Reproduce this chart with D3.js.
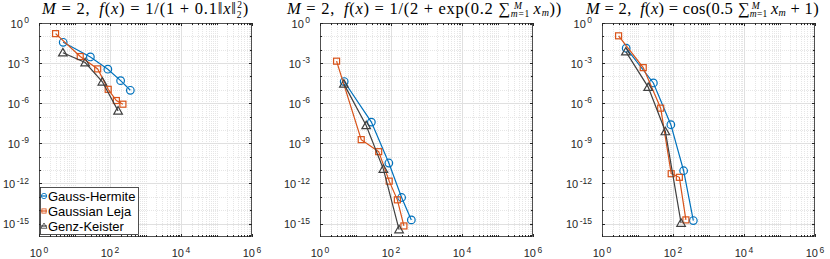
<!DOCTYPE html>
<html>
<head>
<meta charset="utf-8">
<script src="https://cdn.jsdelivr.net/npm/d3@7"></script>
<style>
  body { margin: 0; background: #fff; }
  text { font-family: "Liberation Sans", Arial, sans-serif; }
</style>
</head>
<body>
<div id="chart"></div>
<script>
// number of grid points for each rule (same grids in all three panels)
const nodesGH = [4.8, 28, 87, 199, 374];
const nodesGL = [2.93, 14.5, 45, 89, 151, 231];
const nodesGK = [4.7, 20, 61, 169];

// errors, panel 1: 1/(1+0.1|x|^2)
const err1GH = [0.036, 2.9e-3, 3.5e-4, 4.9e-5, 9.3e-6];
const err1GL = [0.16, 3.1e-3, 3.7e-4, 1.1e-5, 1.6e-6, 8.5e-7];
const err1GK = [6e-3, 1.1e-3, 4e-5, 2.7e-7];
// panel 2: 1/(2+exp(0.2 sum x))
const err2GH = [4.2e-5, 3.9e-8, 3.4e-11, 9e-14, 1.9e-15];
const err2GL = [1.4e-3, 1.9e-9, 2.4e-10, 1.5e-12, 6e-14, 6.7e-16];
const err2GK = [2.8e-5, 2.2e-8, 1.2e-11, 3.6e-16];
// panel 3: cos(0.5 sum x + 1)
const err3GH = [0.013, 3.3e-5, 2.5e-8, 9e-12, 1.7e-15];
const err3GL = [0.11, 4.6e-4, 4.3e-7, 5.4e-12, 2.9e-12, 1.9e-15];
const err3GK = [7.2e-3, 1.6e-5, 7.7e-9, 1.1e-15];

const seriesNames = ["Gauss-Hermite", "Gaussian Leja", "Genz-Keister"];
const xTicks = [1, 1e2, 1e4, 1e6];
const yTicks = [1, 1e-3, 1e-6, 1e-9, 1e-12, 1e-15];

const colors = ["#0072BD", "#D95319", "#404040"];
const markers = ["circle", "square", "triangle"];

const width = 830, height = 259;
const lefts = [39, 320, 602];
const pw = 213, plotTop = 23, plotBottom = 237;

const svg = d3.select("#chart").append("svg")
  .attr("width", width).attr("height", height)

const panels = [
  { left: lefts[0], data: [err1GH, err1GL, err1GK] },
  { left: lefts[1], data: [err2GH, err2GL, err2GK] },
  { left: lefts[2], data: [err3GH, err3GL, err3GK] }
]
const nodes = [nodesGH, nodesGL, nodesGK];

function drawMarker(g, type, x, y, color) {
  if (type === "circle") {
    g.append("circle").attr("cx", x).attr("cy", y).attr("r", 3.8)
      .attr("fill", "none").attr("stroke", color).attr("stroke-width", 1.2)
  } else if (type === "square") {
    g.append("rect").attr("x", x - 3).attr("y", y - 3).attr("width", 6).attr("height", 6)
      .attr("fill", "none").attr("stroke", color).attr("stroke-width", 1.2)
  } else {
    const s = 4.3;
    g.append("path")
      .attr("d", `M${x},${y - s} L${x + s},${y + s * 0.75} L${x - s},${y + s * 0.75} Z`)
      .attr("fill", "none").attr("stroke", color).attr("stroke-width", 1.2)
  }
}

function powLabel(sel, v) {
  const e = Math.round(Math.log10(v));
  sel.append("tspan").text("10")
  sel.append("tspan").attr("font-size", 8.5).attr("dx", 1.5).attr("dy", -4.5).text(e)
}

// title builder: segments of [text, opts], stretched to span x0..x1
function title(x0, x1, segs) {
  const t = svg.append("text").attr("x", x0).attr("y", 14)
    .attr("text-anchor", "start")
    .style("font-family", "'Liberation Serif', 'DejaVu Serif', serif")
    .attr("font-size", 16.5).attr("fill", "#000")
  segs.forEach(s => {
    const ts = t.append("tspan").text(s[0])
    const o = s[1] || {};
    if (o.i) ts.attr("font-style", "italic")
    if (o.fs) ts.attr("font-size", o.fs)
    if (o.dy) ts.attr("dy", o.dy)
    if (o.dx) ts.attr("dx", o.dx)
  })
  const w = t.node().getBBox().width;
  const n = t.node().getNumberOfChars();
  const ls = Math.max(0, (x1 - x0 - w) / n);
  t.attr("letter-spacing", ls)
}

panels.forEach((p, pi) => {
  const x = d3.scaleLog().domain([1, 1e6]).range([p.left, p.left + pw]);
  const y = d3.scaleLog().domain([1e-16, 1]).range([plotBottom, plotTop]);
  const g = svg.append("g");

  // grid
  const xMinor = [], yMinor = [];
  for (let k = 0; k < 6; k++) for (let m = 1; m <= 9; m++) {
    const v = m * Math.pow(10, k);
    if (v > 1 && !xTicks.includes(v)) xMinor.push(v);
  }
  for (let k = -15; k < 0; k++) {
    if (k % 3 !== 0) yMinor.push(Math.pow(10, k));
  }
  g.selectAll(".xminor").data(xMinor).enter().append("line")
    .attr("x1", d => Math.round(x(d)) + 0.5).attr("x2", d => Math.round(x(d)) + 0.5)
    .attr("y1", plotTop).attr("y2", plotBottom)
    .attr("stroke", "#e6e6e6").attr("stroke-width", 1).attr("stroke-dasharray", "1,1")
  g.selectAll(".yminor").data(yMinor).enter().append("line")
    .attr("y1", d => Math.round(y(d)) + 0.5).attr("y2", d => Math.round(y(d)) + 0.5)
    .attr("x1", p.left).attr("x2", p.left + pw)
    .attr("stroke", "#e6e6e6").attr("stroke-width", 1).attr("stroke-dasharray", "1,1")
  g.selectAll(".xmajor").data(xTicks.slice(1, 3)).enter().append("line")
    .attr("x1", d => Math.round(x(d)) + 0.5).attr("x2", d => Math.round(x(d)) + 0.5)
    .attr("y1", plotTop).attr("y2", plotBottom)
    .attr("stroke", "#e0e0e0").attr("stroke-width", 1)
  g.selectAll(".ymajor").data(yTicks.slice(1)).enter().append("line")
    .attr("y1", d => Math.round(y(d)) + 0.5).attr("y2", d => Math.round(y(d)) + 0.5)
    .attr("x1", p.left).attr("x2", p.left + pw)
    .attr("stroke", "#e0e0e0").attr("stroke-width", 1)

  // ticks (inward, mirrored)
  const tickCol = "#262626";
  xMinor.concat(xTicks).forEach(v => {
    const len = xTicks.includes(v) ? 3 : 2;
    const xx = Math.round(x(v)) + 0.5;
    g.append("line").attr("x1", xx).attr("x2", xx).attr("y1", plotBottom).attr("y2", plotBottom - len).attr("stroke", tickCol)
    g.append("line").attr("x1", xx).attr("x2", xx).attr("y1", plotTop).attr("y2", plotTop + len).attr("stroke", tickCol)
  })
  yMinor.concat(yTicks).forEach(v => {
    const len = yTicks.includes(v) ? 3 : 2;
    const yy = Math.round(y(v)) + 0.5;
    g.append("line").attr("y1", yy).attr("y2", yy).attr("x1", p.left).attr("x2", p.left + len).attr("stroke", tickCol)
    g.append("line").attr("y1", yy).attr("y2", yy).attr("x1", p.left + pw).attr("x2", p.left + pw - len).attr("stroke", tickCol)
  })

  // box
  g.append("rect").attr("x", p.left + 0.5).attr("y", plotTop + 0.5)
    .attr("width", pw - 1).attr("height", plotBottom - plotTop - 1)
    .attr("fill", "none").attr("stroke", tickCol).attr("stroke-width", 0.8)

  // tick labels
  xTicks.forEach(v => {
    const t = g.append("text").attr("x", x(v)).attr("y", 257)
      .attr("text-anchor", "middle").attr("font-size", 11).attr("fill", "#262626")
    powLabel(t, v)
  })
  yTicks.forEach(v => {
    const t = g.append("text").attr("x", p.left - 10).attr("y", y(v) + 4.5)
      .attr("text-anchor", "end").attr("font-size", 11).attr("fill", "#262626")
    powLabel(t, v)
  })

  // series
  p.data.forEach((errs, si) => {
    const pts = errs.map((e, i) => [x(nodes[si][i]), y(e)]);
    g.append("path").attr("d", d3.line()(pts))
      .attr("fill", "none").attr("stroke", colors[si]).attr("stroke-width", 1.2)
    pts.forEach(pt => drawMarker(g, markers[si], pt[0], pt[1], colors[si]))
  })
})

// titles
const sp = "\u2005", cs = "\u2002";
title(42, 250, [["M", { i: 1 }], [sp + "=" + sp + "2," + cs], ["f", { i: 1 }], ["("], ["x", { i: 1 }], [")" + sp + "=" + sp + "1/(1" + sp + "+" + sp + "0.1‖"],
  ["x", { i: 1 }], ["‖"], ["2", { fs: 9.5, dy: 4 }], ["2", { fs: 9.5, dx: -5, dy: -10 }], [")", { dy: 6 }]]);
title(287, 563, [["M", { i: 1 }], [sp + "=" + sp + "2," + cs], ["f", { i: 1 }], ["("], ["x", { i: 1 }], [")" + sp + "=" + sp + "1/(2" + sp + "+" + sp + "exp(0.2" + sp],
  ["∑"], ["m", { i: 1, fs: 9.5, dy: 3 }], ["=1", { fs: 9.5 }], ["M", { i: 1, fs: 9.5, dx: -16, dy: -8.5 }],
  ["x", { i: 1, dx: 11, dy: 5.5 }], ["m", { i: 1, fs: 10, dy: 2 }], ["))", { dy: -2 }]]);
title(586, 820, [["M", { i: 1 }], [sp + "=" + sp + "2," + cs], ["f", { i: 1 }], ["("], ["x", { i: 1 }], [")" + sp + "=" + sp + "cos(0.5" + sp],
  ["∑"], ["m", { i: 1, fs: 9.5, dy: 3 }], ["=1", { fs: 9.5 }], ["M", { i: 1, fs: 9.5, dx: -16, dy: -8.5 }],
  ["x", { i: 1, dx: 11, dy: 5.5 }], ["m", { i: 1, fs: 10, dy: 2 }], [sp + "+" + sp + "1)", { dy: -2 }]]);

// legend (first panel)
const lg = svg.append("g");
lg.append("rect").attr("x", 40.5).attr("y", 187.5).attr("width", 98).attr("height", 47)
  .attr("fill", "#fff").attr("stroke", "#262626").attr("stroke-width", 0.8)
seriesNames.forEach((name, i) => {
  const yy = 196 + i * 15;
  lg.append("line").attr("x1", 41).attr("x2", 47).attr("y1", yy).attr("y2", yy)
    .attr("stroke", colors[i]).attr("stroke-width", 1.2)
  const m = lg.append("g").attr("transform", `translate(44,${yy}) scale(0.7) translate(-44,${-yy})`);
  drawMarker(m, markers[i], 44, yy, colors[i]);
  lg.append("text").attr("x", 48).attr("y", yy + 4.5).attr("font-size", 13).attr("fill", "#000").text(name)
})
</script>
</body>
</html>
